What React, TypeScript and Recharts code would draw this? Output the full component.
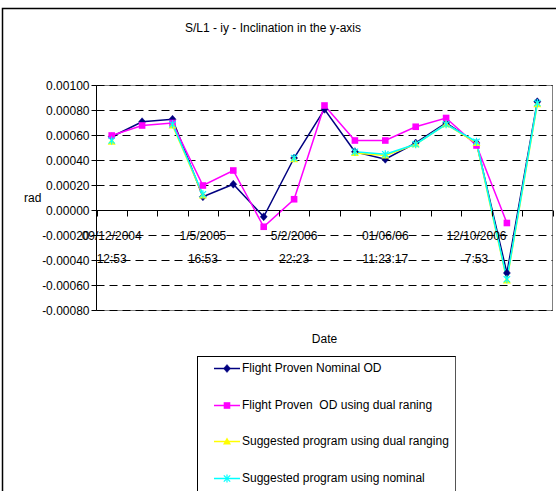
import React from 'react';
import {
  LineChart,
  Line,
  XAxis,
  YAxis,
  CartesianGrid,
  ReferenceLine,
  Legend,
} from 'recharts';

// ---- data ----
const dateLabels = ['09/12/2004', '', '', '1/5/2005', '', '', '5/2/2006', '', '', '01/06/06', '', '', '12/10/2006', '', ''];
const timeLabels = ['12:53', '', '', '16:53', '', '', '22:23', '', '', '11:23:17', '', '', '7:53', '', ''];

const nominalOD = [0.00059, 0.00071, 0.00073, 0.00011, 0.00021, -0.00005, 0.00042, 0.00081, 0.00047, 0.00041, 0.00054, 0.0007, 0.00054, -0.0005, 0.00087];
const dualRangingOD = [0.0006, 0.00068, 0.0007, 0.0002, 0.00032, -0.00013, 0.00009, 0.00084, 0.00056, 0.00056, 0.00067, 0.00074, 0.00052, -0.0001, null];
const suggestedDual = [0.00055, null, 0.00068, 0.00012, null, null, 0.00041, null, 0.00046, 0.00044, 0.00053, 0.00069, 0.00054, -0.00056, 0.00085];
const suggestedNominal = [0.00056, null, 0.00069, 0.00013, null, null, 0.00042, null, 0.00047, 0.00045, 0.00053, 0.00069, 0.00055, -0.00055, 0.00086];

const yTicks = [-0.0008, -0.0006, -0.0004, -0.0002, 0, 0.0002, 0.0004, 0.0006, 0.0008, 0.001];
const Y_MIN = -0.0008;
const Y_MAX = 0.001;

const SERIES = [
  { key: 'nominalOD', name: 'Flight Proven Nominal OD', color: '#000080', marker: 'diamond', values: nominalOD },
  { key: 'dualRangingOD', name: 'Flight Proven  OD using dual raning', color: '#FF00FF', marker: 'square', values: dualRangingOD },
  { key: 'suggestedDual', name: 'Suggested program using dual ranging', color: '#FFFF00', marker: 'triangle', values: suggestedDual },
  { key: 'suggestedNominal', name: 'Suggested program using nominal', color: '#00FFFF', marker: 'star', values: suggestedNominal },
];

const rows = dateLabels.map((_, i) => {
  const row: Record<string, number | null> = { idx: i };
  SERIES.forEach((s) => {
    row[s.key] = s.values[i];
  });
  return row;
});

// ---- layout ----
const W = 556;
const H = 491;
const FONT = "'Liberation Sans', Arial, sans-serif";
const MARGIN = { top: 85.5, right: 3.5, bottom: 179.5, left: 0 };
const Y_AXIS_W = 96.5;
const X_AXIS_H = 1;
const PLOT_X = MARGIN.left + Y_AXIS_W;
const PLOT_Y = MARGIN.top;
const PLOT_W = W - MARGIN.left - MARGIN.right - Y_AXIS_W;
const PLOT_H = H - MARGIN.top - MARGIN.bottom - X_AXIS_H;
const BAND = PLOT_W / dateLabels.length;
const ZERO_FROM_BOTTOM = (PLOT_H * (0 - Y_MIN)) / (Y_MAX - Y_MIN);

type MarkerProps = { kind: string; cx: number; cy: number; color: string };

const Marker = ({ kind, cx, cy, color }: MarkerProps) => {
  if (kind === 'diamond') {
    return (
      <polygon
        points={`${cx},${cy - 4} ${cx + 3.5},${cy} ${cx},${cy + 4} ${cx - 3.5},${cy}`}
        fill={color}
        stroke={color}
        strokeWidth={0.5}
      />
    );
  }
  if (kind === 'square') {
    return <rect x={cx - 3.3} y={cy - 3.3} width={6.6} height={6.6} fill={color} />;
  }
  if (kind === 'triangle') {
    return (
      <polygon points={`${cx},${cy - 4} ${cx + 4},${cy + 3} ${cx - 4},${cy + 3}`} fill={color} />
    );
  }
  return (
    <g stroke={color} strokeWidth={1.2}>
      <line x1={cx - 3.2} y1={cy - 3.2} x2={cx + 3.2} y2={cy + 3.2} />
      <line x1={cx - 3.2} y1={cy + 3.2} x2={cx + 3.2} y2={cy - 3.2} />
      <line x1={cx} y1={cy - 4} x2={cx} y2={cy + 4} />
    </g>
  );
};

const makeDot = (kind: string, color: string) => (props: any) => {
  const { cx, cy, index, value } = props;
  const k = `${kind}-${index}`;
  if (value == null || cx == null || cy == null || Number.isNaN(cy)) return <g key={k} />;
  return (
    <g key={k}>
      <Marker kind={kind} cx={cx} cy={cy} color={color} />
    </g>
  );
};

// Category axis drawn along the zero line, with tick marks on category boundaries
const DateTick = (props: any) => {
  const { x, y, payload } = props;
  const i = payload.value as number;
  const zy = y - ZERO_FROM_BOTTOM;
  const half = BAND / 2;
  const right = Math.round(x + half) + 0.5;
  const left = Math.round(x - half) + 0.5;
  return (
    <g>
      {i === 0 && <line x1={left} x2={left} y1={zy} y2={zy + 6} stroke="#000" />}
      <line x1={right} x2={right} y1={zy} y2={zy + 6} stroke="#000" />
      {dateLabels[i] && (
        <text x={x} y={zy + 25} dy="0.35em" textAnchor="middle" fontSize={12} fontFamily={FONT} fill="#000">
          {dateLabels[i]}
        </text>
      )}
      {timeLabels[i] && (
        <text x={x} y={zy + 48} dy="0.35em" textAnchor="middle" fontSize={12} fontFamily={FONT} fill="#000">
          {timeLabels[i]}
        </text>
      )}
    </g>
  );
};

// Legend box listing the series in plotting order
const LegendBox = () => (
  <div
    style={{
      position: 'relative',
      width: 259,
      height: 160,
      borderTop: '1px solid #000',
      borderLeft: '1px solid #000',
      borderRight: '1px solid #555',
      boxSizing: 'border-box',
      background: '#fff',
      fontFamily: FONT,
    }}
  >
    {SERIES.map((s, i) => (
      <div
        key={s.key}
        style={{
          position: 'absolute',
          left: 16,
          top: 11 + i * 36.7 - 8,
          height: 16,
          display: 'flex',
          alignItems: 'center',
          whiteSpace: 'pre',
        }}
      >
        <svg width={26} height={16} style={{ display: 'block' }}>
          <line x1={0} x2={26} y1={8.5} y2={8.5} stroke={s.color} strokeWidth={1.5} />
          <Marker kind={s.marker} cx={13} cy={8.5} color={s.color} />
        </svg>
        <span style={{ marginLeft: 2, fontSize: 12, color: '#000', lineHeight: '16px' }}>{s.name}</span>
      </div>
    ))}
  </div>
);

export default function App() {
  return (
    <div
      style={{
        position: 'absolute',
        left: 0,
        top: 0,
        width: W,
        height: H,
        overflow: 'hidden',
        background: '#fff',
        fontFamily: FONT,
      }}
    >
      <svg width={W} height={H} style={{ position: 'absolute', left: 0, top: 0 }}>
        <rect x={2.5} y={8.5} width={W + 20} height={H + 20} fill="#fff" stroke="#000" strokeWidth={1.5} />
        <text x={273} y={28} dy="0.35em" textAnchor="middle" fontSize={12} fontFamily={FONT} fill="#000">
          S/L1 - iy - Inclination in the y-axis
        </text>
        {/* plot-area frame */}
        <rect x={PLOT_X} y={PLOT_Y} width={PLOT_W} height={PLOT_H} fill="none" stroke="#808080" />
      </svg>
      <div style={{ position: 'absolute', left: 0, top: 0 }}>
        <LineChart width={W} height={H} data={rows} margin={MARGIN} style={{ fontFamily: FONT }}>
          <CartesianGrid vertical={false} stroke="#000" strokeDasharray="8 5" />
          <XAxis
            dataKey="idx"
            type="category"
            height={X_AXIS_H}
            padding={{ left: BAND / 2, right: BAND / 2 }}
            axisLine={false}
            tickLine={false}
            tickSize={0}
            tickMargin={0}
            interval={0}
            tick={<DateTick />}
            label={{ value: 'Date', position: 'bottom', offset: 23, fontSize: 12, fill: '#000', fontFamily: FONT }}
          />
          <YAxis
            type="number"
            domain={[Y_MIN, Y_MAX]}
            ticks={yTicks}
            width={Y_AXIS_W}
            interval={0}
            axisLine={{ stroke: '#000' }}
            tickLine={{ stroke: '#000' }}
            tickSize={5}
            tickMargin={2}
            tick={{ fontSize: 12, fill: '#000', fontFamily: FONT }}
            tickFormatter={(v: number) => v.toFixed(5)}
            label={{ value: 'rad', position: 'insideLeft', offset: 24, fontSize: 12, fill: '#000', fontFamily: FONT }}
          />
          <ReferenceLine y={0} stroke="#000" strokeWidth={1} />
          {SERIES.map((s) => (
            <Line
              key={s.key}
              dataKey={s.key}
              name={s.name}
              stroke={s.color}
              strokeWidth={1.5}
              dot={makeDot(s.marker, s.color)}
              activeDot={false}
              isAnimationActive={false}
              legendType="line"
            />
          ))}
          <Legend
            layout="vertical"
            align="center"
            verticalAlign="middle"
            content={<LegendBox />}
            wrapperStyle={{ left: 197, top: 356, bottom: 'auto', right: 'auto', width: 259, height: 160 }}
          />
        </LineChart>
      </div>
    </div>
  );
}
